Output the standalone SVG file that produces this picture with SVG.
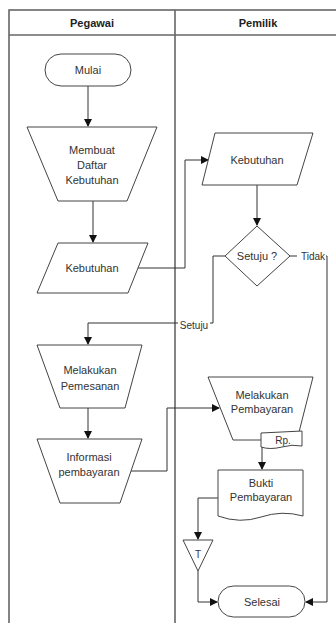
<svg xmlns="http://www.w3.org/2000/svg" width="336" height="623" viewBox="0 0 336 623">
<style>
.frame{fill:none;stroke:#666;stroke-width:1.6}
.node{fill:#fff;stroke:#444;stroke-width:1}
.edge{fill:none;stroke:#333;stroke-width:1}
.t{font-family:"Liberation Sans",Arial,sans-serif;font-size:11px;fill:#333;text-anchor:middle}
.h{font-family:"Liberation Sans",Arial,sans-serif;font-size:11px;font-weight:bold;fill:#222;text-anchor:middle}
.lbl{font-family:"Liberation Sans",Arial,sans-serif;font-size:10px;fill:#333;text-anchor:middle}
</style>
<defs>
<marker id="arr" markerWidth="8" markerHeight="8" refX="7" refY="4" orient="auto" markerUnits="userSpaceOnUse">
<path d="M0,0 L8,4 L0,8 Z" fill="#111"/>
</marker>
</defs>
<rect width="336" height="623" fill="#fff"/>
<g id="pool">
<rect class="frame" x="9" y="10" width="332" height="625"/>
<line class="frame" x1="9" y1="35" x2="341" y2="35"/>
<line class="frame" x1="175" y1="10" x2="175" y2="635"/>
<text class="h" x="92" y="27">Pegawai</text>
<text class="h" x="258" y="27">Pemilik</text>
</g>
<g id="connectors">
<path class="edge" d="M88,86 V126" marker-end="url(#arr)"/>
<path class="edge" d="M93,201 V242" marker-end="url(#arr)"/>
<path class="edge" d="M138,268 H185 V160 H208" marker-end="url(#arr)"/>
<path class="edge" d="M257,185 V225" marker-end="url(#arr)"/>
<path class="edge" d="M290,256 H327 V602 H306" marker-end="url(#arr)"/>
<path class="edge" d="M225,256 H213 V323 H88 V344" marker-end="url(#arr)"/>
<path class="edge" d="M88,408 V438" marker-end="url(#arr)"/>
<path class="edge" d="M131,471 H167 V408 H219" marker-end="url(#arr)"/>
<path class="edge" d="M262,447 V469" marker-end="url(#arr)"/>
<path class="edge" d="M218,498 H198 V539" marker-end="url(#arr)"/>
<path class="edge" d="M198,571 V602 H217" marker-end="url(#arr)"/>
<rect x="297" y="251" width="29" height="11" fill="#fff"/>
<text class="lbl" x="313" y="260">Tidak</text>
<rect x="178" y="319" width="32" height="12" fill="#fff"/>
<text class="lbl" x="194" y="329">Setuju</text>
</g>
<g id="mulai">
<rect class="node" x="45" y="54" width="86" height="32" rx="16"/>
<text class="t" x="88" y="74">Mulai</text>
</g>
<g id="membuat">
<polygon class="node" points="27,127 157,127 127,201 58,201"/>
<text class="t" x="92" y="154">Membuat</text>
<text class="t" x="92" y="169">Daftar</text>
<text class="t" x="92" y="184">Kebutuhan</text>
</g>
<g id="kebutuhan1">
<polygon class="node" points="58,243 148,243 128,293 37,293"/>
<text class="t" x="92" y="272">Kebutuhan</text>
</g>
<g id="kebutuhan2">
<polygon class="node" points="215,133 313,133 297,185 202,185"/>
<text class="t" x="257" y="164">Kebutuhan</text>
</g>
<g id="setuju">
<polygon class="node" points="257,226 290,256 257,286 225,256"/>
<text class="t" x="257" y="260">Setuju ?</text>
</g>
<g id="pemesanan">
<polygon class="node" points="37,345 142,345 125,408 60,408"/>
<text class="t" x="90" y="374">Melakukan</text>
<text class="t" x="90" y="390">Pemesanan</text>
</g>
<g id="informasi">
<polygon class="node" points="37,439 142,439 120,503 60,503"/>
<text class="t" x="89" y="461">Informasi</text>
<text class="t" x="89" y="476">pembayaran</text>
</g>
<g id="pembayaran">
<polygon class="node" points="208,377 313,377 297,440 233,440"/>
<text class="t" x="262" y="399">Melakukan</text>
<text class="t" x="262" y="413">Pembayaran</text>
</g>
<g id="rp">
<path class="node" d="M261,433 L302,431 L302,446 Q292,444 282,447 Q270,450 261,447 Z"/>
<text class="lbl" x="283" y="444">Rp.</text>
</g>
<g id="bukti">
<path class="node" d="M218,470 H303 V516 Q282,510 261,517 Q240,524 218,516 Z"/>
<text class="t" x="261" y="487">Bukti</text>
<text class="t" x="261" y="501">Pembayaran</text>
</g>
<g id="konektor">
<polygon class="node" points="183,540 213,540 198,571"/>
<text class="lbl" x="198" y="558">T</text>
</g>
<g id="selesai">
<rect class="node" x="218" y="586" width="87" height="31" rx="15.5"/>
<text class="t" x="262" y="606">Selesai</text>
</g>
</svg>
